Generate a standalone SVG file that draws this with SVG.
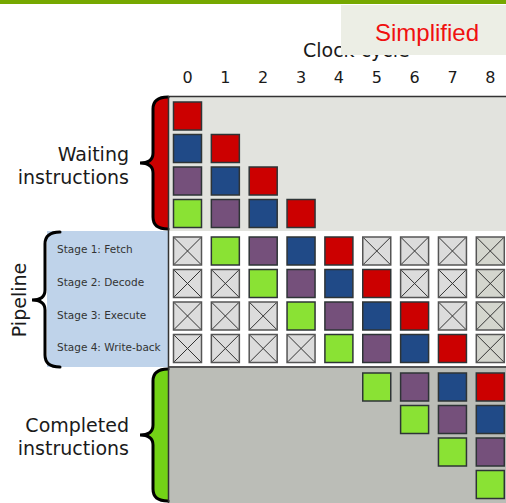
<svg xmlns="http://www.w3.org/2000/svg" xmlns:xlink="http://www.w3.org/1999/xlink" width="506" height="503" viewBox="0 0 506 503">
<style>
.sq{stroke:#2e3436;stroke-width:1.5}
.r{fill:#cc0000}.b{fill:#204a87}.p{fill:#75507b}.g{fill:#8ae234}
.lbl{font-family:"DejaVu Sans",sans-serif;font-size:19px;fill:#1a1a1a}
.num{font-family:"DejaVu Sans",sans-serif;font-size:16px;fill:#1a1a1a;text-anchor:middle}
.stage{font-family:"DejaVu Sans",sans-serif;font-size:10.5px;fill:#333}
.brace{fill:none;stroke:#000;stroke-width:3;stroke-linecap:round}
</style>
<defs>
<g id="x">
<rect x="0" y="0" width="28" height="28" fill="#dcdcdc" stroke="#555" stroke-width="1.5"/>
<path d="M0.75 0.75L27.25 27.25M27.25 0.75L0.75 27.25" stroke="#333" stroke-width="1"/>
</g>
<g id="x8">
<rect x="0" y="0" width="28" height="28" fill="#d4d6ce" stroke="#555" stroke-width="1.5"/>
<path d="M0.75 0.75L27.25 27.25M27.25 0.75L0.75 27.25" stroke="#333" stroke-width="1"/>
</g>
</defs>
<rect x="0" y="0" width="506" height="503" fill="#fff"/>
<rect x="0" y="0" width="506" height="4" fill="#76a800"/>

<g id="axis">
<text class="lbl" x="303" y="57">Clock cycle</text>
<text class="num" x="187.5" y="83">0</text>
<text class="num" x="225.4" y="83">1</text>
<text class="num" x="263.2" y="83">2</text>
<text class="num" x="301" y="83">3</text>
<text class="num" x="338.9" y="83">4</text>
<text class="num" x="376.8" y="83">5</text>
<text class="num" x="414.6" y="83">6</text>
<text class="num" x="452.5" y="83">7</text>
<text class="num" x="490.3" y="83">8</text>
</g>

<g id="simplified">
<rect x="341" y="5" width="165" height="50" fill="#eceee5"/>
<text x="427" y="41" font-family="Liberation Sans, Arial, sans-serif" font-size="24" fill="#f01010" text-anchor="middle">Simplified</text>
</g>

<g id="waiting">
<rect x="168" y="96" width="338" height="135" fill="#e2e3de"/>
<line x1="168" y1="96.5" x2="506" y2="96.5" stroke="#333" stroke-width="1.5"/>
<path d="M168 97 Q153 97 153 109 L153 153 Q153 163 140 163 Q153 163 153 173 L153 217 Q153 229 168 229 Z" fill="#cc0000"/>
<path class="brace" d="M168 97 Q153 97 153 109 L153 153 Q153 163 140 163 Q153 163 153 173 L153 217 Q153 229 168 229"/>
<text class="lbl" x="129" y="161" text-anchor="end">Waiting</text>
<text class="lbl" x="129" y="184" text-anchor="end">instructions</text>
<rect class="sq r" x="173.5" y="102" width="28" height="28"/>
<rect class="sq b" x="173.5" y="134.5" width="28" height="28"/>
<rect class="sq r" x="211.35" y="134.5" width="28" height="28"/>
<rect class="sq p" x="173.5" y="167" width="28" height="28"/>
<rect class="sq b" x="211.35" y="167" width="28" height="28"/>
<rect class="sq r" x="249.2" y="167" width="28" height="28"/>
<rect class="sq g" x="173.5" y="199.5" width="28" height="28"/>
<rect class="sq p" x="211.35" y="199.5" width="28" height="28"/>
<rect class="sq b" x="249.2" y="199.5" width="28" height="28"/>
<rect class="sq r" x="287.05" y="199.5" width="28" height="28"/>
</g>

<g id="pipeline">
<rect x="47" y="231" width="121" height="136" fill="#bfd3ea"/>
<rect x="168" y="231" width="338" height="135" fill="#fff"/>
<path class="brace" d="M60 232 Q45 232 45 244 L45 290 Q45 300 32 300 Q45 300 45 310 L45 355 Q45 367 60 367"/>
<text class="lbl" transform="translate(26 300) rotate(-90)" text-anchor="middle">Pipeline</text>
<text class="stage" x="57" y="253">Stage 1: Fetch</text>
<text class="stage" x="57" y="286">Stage 2: Decode</text>
<text class="stage" x="57" y="319">Stage 3: Execute</text>
<text class="stage" x="57" y="351">Stage 4: Write-back</text>
<!-- row 1 -->
<use xlink:href="#x" x="173.5" y="237"/>
<rect class="sq g" x="211.35" y="237" width="28" height="28"/>
<rect class="sq p" x="249.2" y="237" width="28" height="28"/>
<rect class="sq b" x="287.05" y="237" width="28" height="28"/>
<rect class="sq r" x="324.9" y="237" width="28" height="28"/>
<use xlink:href="#x" x="362.75" y="237"/>
<use xlink:href="#x" x="400.6" y="237"/>
<use xlink:href="#x" x="438.45" y="237"/>
<use xlink:href="#x8" x="476.3" y="237"/>
<!-- row 2 -->
<use xlink:href="#x" x="173.5" y="269.5"/>
<use xlink:href="#x" x="211.35" y="269.5"/>
<rect class="sq g" x="249.2" y="269.5" width="28" height="28"/>
<rect class="sq p" x="287.05" y="269.5" width="28" height="28"/>
<rect class="sq b" x="324.9" y="269.5" width="28" height="28"/>
<rect class="sq r" x="362.75" y="269.5" width="28" height="28"/>
<use xlink:href="#x" x="400.6" y="269.5"/>
<use xlink:href="#x" x="438.45" y="269.5"/>
<use xlink:href="#x8" x="476.3" y="269.5"/>
<!-- row 3 -->
<use xlink:href="#x" x="173.5" y="302"/>
<use xlink:href="#x" x="211.35" y="302"/>
<use xlink:href="#x" x="249.2" y="302"/>
<rect class="sq g" x="287.05" y="302" width="28" height="28"/>
<rect class="sq p" x="324.9" y="302" width="28" height="28"/>
<rect class="sq b" x="362.75" y="302" width="28" height="28"/>
<rect class="sq r" x="400.6" y="302" width="28" height="28"/>
<use xlink:href="#x" x="438.45" y="302"/>
<use xlink:href="#x8" x="476.3" y="302"/>
<!-- row 4 -->
<use xlink:href="#x" x="173.5" y="334.5"/>
<use xlink:href="#x" x="211.35" y="334.5"/>
<use xlink:href="#x" x="249.2" y="334.5"/>
<use xlink:href="#x" x="287.05" y="334.5"/>
<rect class="sq g" x="324.9" y="334.5" width="28" height="28"/>
<rect class="sq p" x="362.75" y="334.5" width="28" height="28"/>
<rect class="sq b" x="400.6" y="334.5" width="28" height="28"/>
<rect class="sq r" x="438.45" y="334.5" width="28" height="28"/>
<use xlink:href="#x8" x="476.3" y="334.5"/>
</g>

<g id="completed">
<rect x="168" y="367" width="338" height="136" fill="#bbbdb7"/>
<line x1="168" y1="367" x2="506" y2="367" stroke="#555" stroke-width="2"/>
<path d="M168 369 Q153 369 153 381 L153 425 Q153 435 140 435 Q153 435 153 445 L153 489 Q153 501 168 501 Z" fill="#73d216"/>
<path class="brace" d="M168 369 Q153 369 153 381 L153 425 Q153 435 140 435 Q153 435 153 445 L153 489 Q153 501 168 501"/>
<text class="lbl" x="129" y="432" text-anchor="end">Completed</text>
<text class="lbl" x="129" y="455" text-anchor="end">instructions</text>
<rect class="sq g" x="362.75" y="373" width="28" height="28"/>
<rect class="sq p" x="400.6" y="373" width="28" height="28"/>
<rect class="sq b" x="438.45" y="373" width="28" height="28"/>
<rect class="sq r" x="476.3" y="373" width="28" height="28"/>
<rect class="sq g" x="400.6" y="405.5" width="28" height="28"/>
<rect class="sq p" x="438.45" y="405.5" width="28" height="28"/>
<rect class="sq b" x="476.3" y="405.5" width="28" height="28"/>
<rect class="sq g" x="438.45" y="438" width="28" height="28"/>
<rect class="sq p" x="476.3" y="438" width="28" height="28"/>
<rect class="sq g" x="476.3" y="470.5" width="28" height="28"/>
</g>

<g id="connectors">
<line x1="168.5" y1="96" x2="168.5" y2="503" stroke="#333" stroke-width="1.5"/>
</g>
</svg>
